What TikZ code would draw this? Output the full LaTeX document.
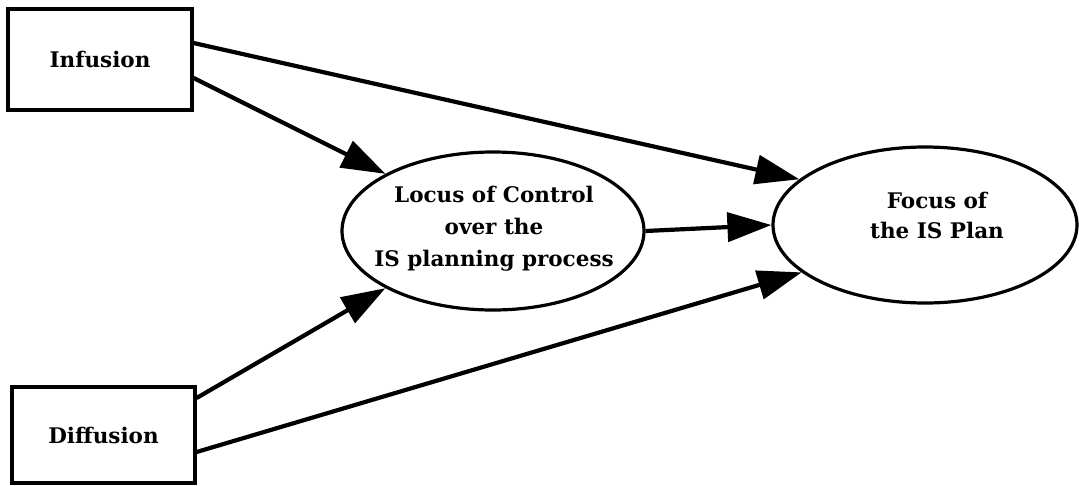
\documentclass[tikz,border=0pt]{standalone}
\usepackage{fontspec}
\setmainfont{DejaVu Serif}
\usetikzlibrary{arrows.meta,shapes.geometric}
\begin{document}
\begin{tikzpicture}[x=1pt,y=-1pt,
  txt/.style={font=\fontsize{21.5}{32}\selectfont\bfseries,align=center},
  box/.style={draw,line width=3.2pt,inner sep=0pt,txt},
  oval/.style={draw,ellipse,line width=3.2pt,inner sep=0pt},
  lbl/.style={txt,inner sep=0pt},
  arr/.style={line width=4.2pt,-{Triangle[length=44pt,width=29pt]}}]
\useasboundingbox (0,0) rectangle (1079,485);
\node[box,minimum width=184pt,minimum height=101pt] (inf) at (100,59.5) {Infusion};
\node[box,minimum width=183pt,minimum height=96pt] (dif) at (103.5,435) {Diffusion};
\node[oval,minimum width=302pt,minimum height=158pt] (loc) at (493,231) {};
\node[lbl] (loct) at (494,228.5) {Locus of Control\\over the\\IS planning process};
\node[oval,minimum width=304pt,minimum height=156pt] (foc) at (925,225) {};
\node[lbl,font=\fontsize{21.5}{30}\selectfont\bfseries] (foct) at (937,215.5) {Focus of\\the IS Plan};
\draw[arr] ([yshift=16.5pt]inf.east) -- (foc.160);
\draw[arr] ([yshift=-18.5pt]inf.east) -- (loc.152);
\draw[arr] ([yshift=37pt]dif.east) -- (loc.208);
\draw[arr] ([yshift=-17pt]dif.east) -- (foc.201);
\draw[arr] (loc.east) -- (foc.west);
\end{tikzpicture}
\end{document}
